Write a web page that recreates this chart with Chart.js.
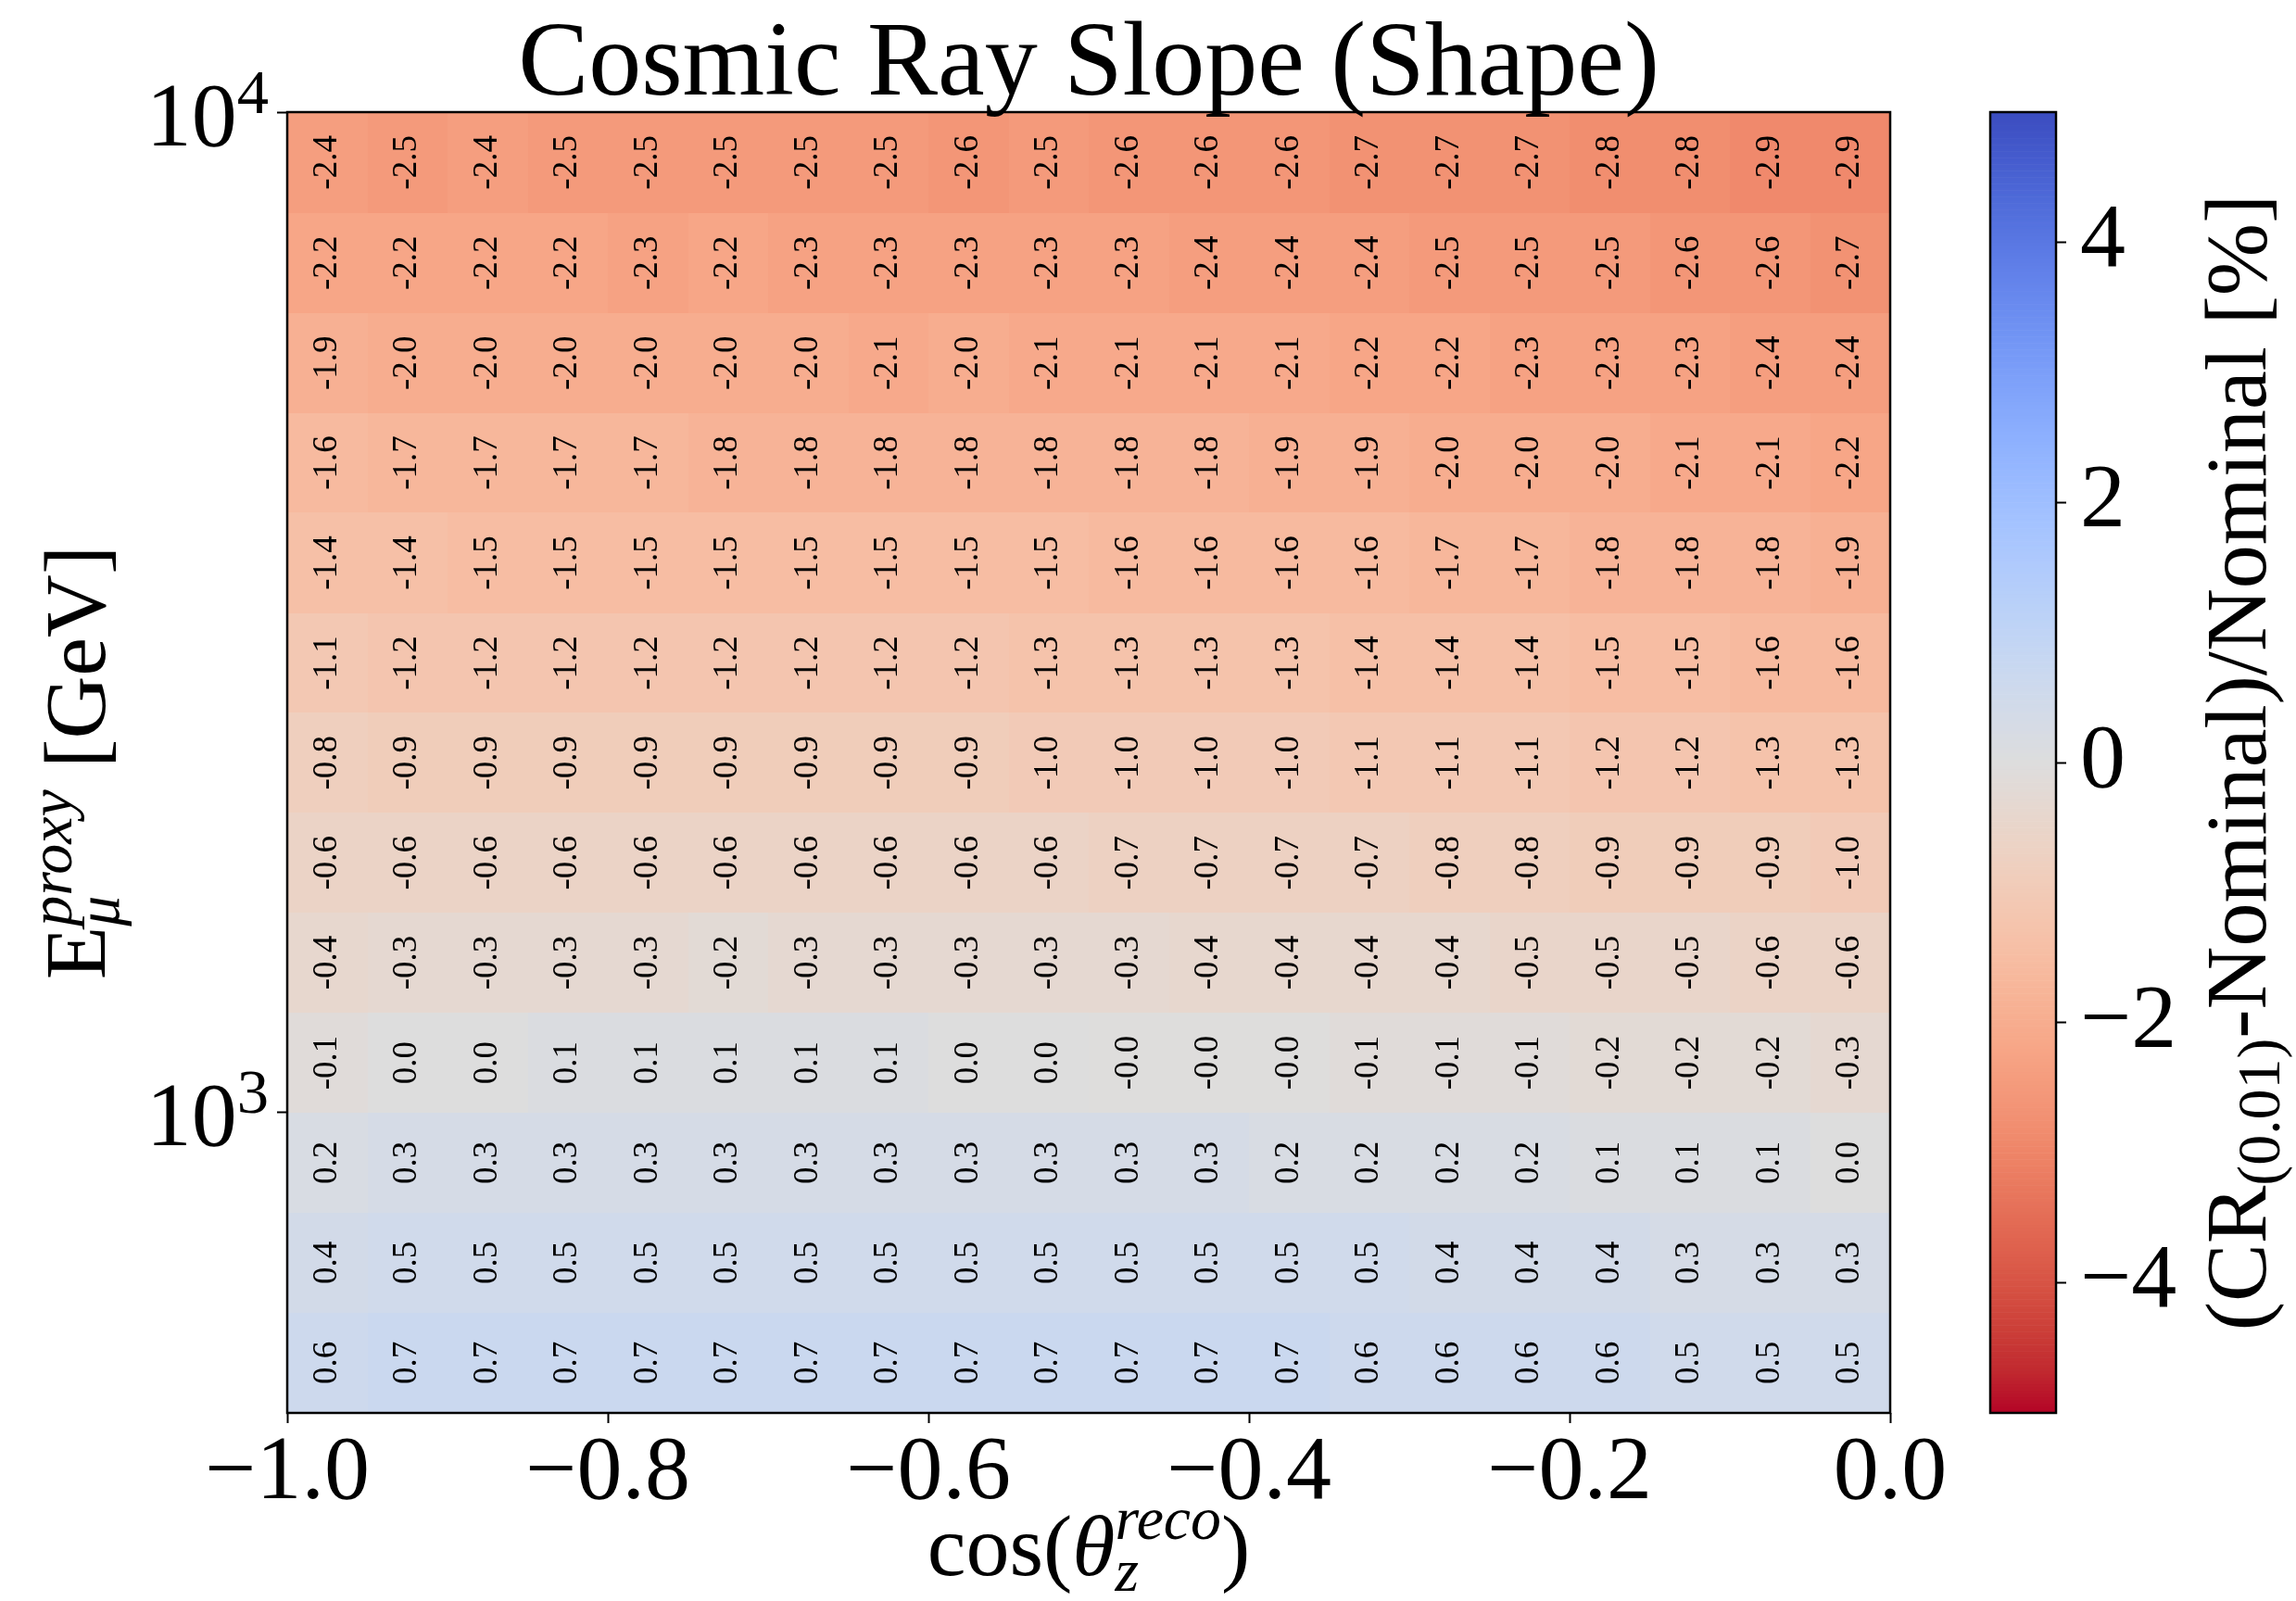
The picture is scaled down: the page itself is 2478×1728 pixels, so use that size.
<!DOCTYPE html>
<html>
<head>
<meta charset="utf-8">
<title>Cosmic Ray Slope (Shape)</title>
<script src="https://cdn.jsdelivr.net/npm/chart.js@4.4.1/dist/chart.umd.min.js"></script>
<style>
    html, body { margin: 0; padding: 0; background: #fff; }
    #wrap { position: relative; width: 2478px; height: 1728px; }
    #wrap canvas { position: absolute; left: 0; top: 0; }
</style>
</head>
<body>
<div id="wrap">
    <canvas id="heatmap" width="2478" height="1728"></canvas>
    <canvas id="colorbar" width="2478" height="1728"></canvas>
</div>
<script>
// cos(theta_z^reco) bin edges
const COS_EDGES = [-1.00, -0.95, -0.90, -0.85, -0.80, -0.75, -0.70, -0.65, -0.60, -0.55, -0.50,
                   -0.45, -0.40, -0.35, -0.30, -0.25, -0.20, -0.15, -0.10, -0.05, 0.00];
// E_mu^proxy bin edges [GeV]
const E_EDGES = [500, 630, 793, 998, 1257, 1582, 1992, 2507, 3156, 3974, 5002, 6298, 7928, 10000];

// (CR(0.01) - Nominal) / Nominal [%], one row per energy bin, lowest energy first
const SHIFT = [
    [0.6, 0.7, 0.7, 0.7, 0.7, 0.7, 0.7, 0.7, 0.7, 0.7, 0.7, 0.7, 0.7, 0.6, 0.6, 0.6, 0.6, 0.5, 0.5, 0.5],
    [0.4, 0.5, 0.5, 0.5, 0.5, 0.5, 0.5, 0.5, 0.5, 0.5, 0.5, 0.5, 0.5, 0.5, 0.4, 0.4, 0.4, 0.3, 0.3, 0.3],
    [0.2, 0.3, 0.3, 0.3, 0.3, 0.3, 0.3, 0.3, 0.3, 0.3, 0.3, 0.3, 0.2, 0.2, 0.2, 0.2, 0.1, 0.1, 0.1, 0.0],
    [-0.1, 0.0, 0.0, 0.1, 0.1, 0.1, 0.1, 0.1, 0.0, 0.0, -0.02, -0.02, -0.02, -0.1, -0.1, -0.1, -0.2, -0.2, -0.2, -0.3],
    [-0.4, -0.3, -0.3, -0.3, -0.3, -0.2, -0.3, -0.3, -0.3, -0.3, -0.3, -0.4, -0.4, -0.4, -0.4, -0.5, -0.5, -0.5, -0.6, -0.6],
    [-0.6, -0.6, -0.6, -0.6, -0.6, -0.6, -0.6, -0.6, -0.6, -0.6, -0.7, -0.7, -0.7, -0.7, -0.8, -0.8, -0.9, -0.9, -0.9, -1.0],
    [-0.8, -0.9, -0.9, -0.9, -0.9, -0.9, -0.9, -0.9, -0.9, -1.0, -1.0, -1.0, -1.0, -1.1, -1.1, -1.1, -1.2, -1.2, -1.3, -1.3],
    [-1.1, -1.2, -1.2, -1.2, -1.2, -1.2, -1.2, -1.2, -1.2, -1.3, -1.3, -1.3, -1.3, -1.4, -1.4, -1.4, -1.5, -1.5, -1.6, -1.6],
    [-1.4, -1.4, -1.5, -1.5, -1.5, -1.5, -1.5, -1.5, -1.5, -1.5, -1.6, -1.6, -1.6, -1.6, -1.7, -1.7, -1.8, -1.8, -1.8, -1.9],
    [-1.6, -1.7, -1.7, -1.7, -1.7, -1.8, -1.8, -1.8, -1.8, -1.8, -1.8, -1.8, -1.9, -1.9, -2.0, -2.0, -2.0, -2.1, -2.1, -2.2],
    [-1.9, -2.0, -2.0, -2.0, -2.0, -2.0, -2.0, -2.1, -2.0, -2.1, -2.1, -2.1, -2.1, -2.2, -2.2, -2.3, -2.3, -2.3, -2.4, -2.4],
    [-2.2, -2.2, -2.2, -2.2, -2.3, -2.2, -2.3, -2.3, -2.3, -2.3, -2.3, -2.4, -2.4, -2.4, -2.5, -2.5, -2.5, -2.6, -2.6, -2.7],
    [-2.4, -2.5, -2.4, -2.5, -2.5, -2.5, -2.5, -2.5, -2.6, -2.5, -2.6, -2.6, -2.6, -2.7, -2.7, -2.7, -2.8, -2.8, -2.9, -2.9]
];

const X_TICKS = [-1.0, -0.8, -0.6, -0.4, -0.2, 0.0];
const Y_TICKS = [1000, 10000];
const CB_TICKS = [-4, -2, 0, 2, 4];
const CB_MIN = -5, CB_MAX = 5;

const FAMILY = '"Liberation Serif", "Times New Roman", serif';

// matplotlib coolwarm, sampled at 33 points (used reversed: blue = +, red = -)
const COOLWARM = [
    [59, 76, 192], [68, 90, 204], [77, 104, 215], [87, 117, 225], [98, 130, 234], [108, 142, 241],
    [119, 154, 247], [130, 165, 251], [141, 176, 254], [152, 185, 255], [163, 194, 255], [174, 201, 253],
    [184, 208, 249], [194, 213, 244], [204, 217, 238], [213, 219, 230], [221, 221, 221], [229, 216, 209],
    [236, 211, 197], [241, 204, 185], [245, 196, 173], [247, 187, 160], [247, 177, 148], [247, 166, 135],
    [244, 154, 123], [241, 141, 111], [236, 127, 99], [229, 112, 88], [222, 96, 77], [213, 80, 66],
    [203, 62, 56], [192, 40, 47], [180, 4, 38]
];

function cmap(v) {
    let t = (CB_MAX - v) / (CB_MAX - CB_MIN);
    t = Math.min(1, Math.max(0, t));
    const p = t * (COOLWARM.length - 1);
    const i = Math.min(Math.floor(p), COOLWARM.length - 2);
    const f = p - i;
    const a = COOLWARM[i], b = COOLWARM[i + 1];
    const c = a.map((ai, k) => Math.round(ai + (b[k] - ai) * f));
    return `rgb(${c[0]},${c[1]},${c[2]})`;
}

const fontOf = (size, italic) => (italic ? 'italic ' : '') + size + 'px ' + FAMILY;

// text with sub/superscripts; seg = {t, s: scale, it: italic, up: shift in em, keep: don't advance}
function drawRich(ctx, segs, size, x, y, align, rot) {
    ctx.save();
    ctx.translate(x, y);
    if (rot) ctx.rotate(rot);
    let cx = 0, hold = 0;
    const placed = [];
    segs.forEach(sg => {
        const fs = size * (sg.s || 1);
        ctx.font = fontOf(fs, sg.it);
        const w = ctx.measureText(sg.t).width;
        placed.push({ sg, fs, x: cx });
        if (sg.keep) hold = cx + w;
        else { cx = Math.max(cx + w, hold); hold = 0; }
    });
    const total = Math.max(cx, hold);
    const off = align === 'center' ? -total / 2 : (align === 'right' ? -total : 0);
    ctx.fillStyle = '#000';
    ctx.textAlign = 'left';
    ctx.textBaseline = 'alphabetic';
    placed.forEach(p => {
        ctx.font = fontOf(p.fs, p.sg.it);
        ctx.fillText(p.sg.t, off + p.x, -(p.sg.up || 0) * size);
    });
    ctx.restore();
}

const minus = v => (v < 0 ? '\u2212' : '') + Math.abs(v);

// cell centres, one point per bin
const cellPoints = [];
SHIFT.forEach((row, j) => row.forEach((v, i) => cellPoints.push({
    x: (COS_EDGES[i] + COS_EDGES[i + 1]) / 2,
    y: Math.sqrt(E_EDGES[j] * E_EDGES[j + 1]),
    v: v, i: i, j: j
})));

const heatPlugin = {
    id: 'heat',
    beforeDatasetsDraw(chart) {
        const { ctx, scales: { x, y } } = chart;
        ctx.save();
        chart.data.datasets[0].data.forEach(c => {
            const x0 = Math.round(x.getPixelForValue(COS_EDGES[c.i]));
            const x1 = Math.round(x.getPixelForValue(COS_EDGES[c.i + 1]));
            const y0 = Math.round(y.getPixelForValue(E_EDGES[c.j]));
            const y1 = Math.round(y.getPixelForValue(E_EDGES[c.j + 1]));
            ctx.fillStyle = cmap(c.v);
            ctx.fillRect(x0, y1, x1 - x0, y0 - y1);
        });
        ctx.restore();
    },
    afterDatasetsDraw(chart) {
        const { ctx, chartArea: a } = chart;
        const meta = chart.getDatasetMeta(0);
        const raw = chart.data.datasets[0].data;
        ctx.save();
        ctx.fillStyle = '#000';
        ctx.font = fontOf(37, false);
        ctx.textAlign = 'center';
        ctx.textBaseline = 'middle';
        meta.data.forEach((pt, k) => {
            ctx.save();
            ctx.translate(pt.x, pt.y);
            ctx.rotate(-Math.PI / 2);
            ctx.fillText(raw[k].v.toFixed(1), 0, 0);
            ctx.restore();
        });
        ctx.strokeStyle = '#000';
        ctx.lineWidth = 2.5;
        ctx.strokeRect(a.left, a.top, a.right - a.left, a.bottom - a.top);
        ctx.restore();
    },
    afterDraw(chart) {
        const { ctx, chartArea: a, scales: { y } } = chart;
        const cx = (a.left + a.right) / 2;
        const cy = (a.top + a.bottom) / 2;
        ctx.save();
        ctx.fillStyle = '#000';
        ctx.font = fontOf(114, false);
        ctx.textAlign = 'center';
        ctx.textBaseline = 'alphabetic';
        ctx.fillText('Cosmic Ray Slope (Shape)', cx, 102);
        ctx.restore();

        // log tick labels 10^n
        Y_TICKS.forEach(v => {
            const py = y.getPixelForValue(v);
            drawRich(ctx, [{ t: '10' }, { t: String(Math.round(Math.log10(v))), s: 0.7, up: 0.36 }],
                98, a.left - 20, py + 36, 'right');
        });

        drawRich(ctx, [
            { t: 'cos(' }, { t: '\u03b8', it: true },
            { t: 'reco', s: 0.7, it: true, up: 0.42, keep: true },
            { t: 'z', s: 0.7, it: true, up: -0.18 },
            { t: ')' }
        ], 94, cx, 1700, 'center');

        drawRich(ctx, [
            { t: 'E' },
            { t: 'proxy', s: 0.7, it: true, up: 0.38, keep: true },
            { t: '\u03bc', s: 0.7, it: true, up: -0.16 },
            { t: ' [GeV]' }
        ], 94, 113, cy, 'center', -Math.PI / 2);
    }
};

new Chart(document.getElementById('heatmap'), {
    type: 'scatter',
    data: {
        datasets: [{ data: cellPoints, pointRadius: 0, pointHoverRadius: 0 }]
    },
    options: {
        responsive: false,
        devicePixelRatio: 1,
        animation: false,
        events: [],
        layout: { padding: { left: 0, top: 121, right: 438, bottom: 0 } },
        plugins: { legend: { display: false }, tooltip: { enabled: false } },
        scales: {
            x: {
                type: 'linear', position: 'bottom', min: -1, max: 0,
                afterBuildTicks: s => { s.ticks = X_TICKS.map(v => ({ value: v })); },
                afterFit: s => { s.height = 203; },
                border: { display: false },
                grid: { drawOnChartArea: false, drawTicks: true, tickLength: 11, tickWidth: 2, tickColor: '#000' },
                ticks: {
                    color: '#000', padding: -4, maxRotation: 0, autoSkip: false,
                    font: { family: FAMILY, size: 98 },
                    callback: v => (v < -1e-9 ? '\u2212' : '') + Math.abs(v).toFixed(1)
                }
            },
            y: {
                type: 'logarithmic', position: 'left', min: 500, max: 10000,
                afterBuildTicks: s => { s.ticks = Y_TICKS.map(v => ({ value: v })); },
                afterFit: s => { s.width = 310; },
                border: { display: false },
                grid: { drawOnChartArea: false, drawTicks: true, tickLength: 11, tickWidth: 2, tickColor: '#000' },
                ticks: { display: false }
            }
        }
    },
    plugins: [heatPlugin]
});

const colorbarPlugin = {
    id: 'cbar',
    beforeDatasetsDraw(chart) {
        const { ctx, chartArea: a, scales: { y } } = chart;
        const n = 400;
        ctx.save();
        for (let k = 0; k < n; k++) {
            const v0 = CB_MIN + (CB_MAX - CB_MIN) * k / n;
            const v1 = CB_MIN + (CB_MAX - CB_MIN) * (k + 1) / n;
            const p0 = y.getPixelForValue(v0), p1 = y.getPixelForValue(v1);
            ctx.fillStyle = cmap((v0 + v1) / 2);
            ctx.fillRect(a.left, p1, a.right - a.left, p0 - p1 + 0.6);
        }
        ctx.strokeStyle = '#000';
        ctx.lineWidth = 2.5;
        ctx.strokeRect(a.left, a.top, a.right - a.left, a.bottom - a.top);
        ctx.restore();
    },
    afterDraw(chart) {
        const { ctx, chartArea: a } = chart;
        drawRich(ctx, [
            { t: '(CR' },
            { t: '(0.01)', s: 0.7, up: -0.16 },
            { t: '-Nominal)/Nominal [%]' }
        ], 94, 2445, (a.top + a.bottom) / 2, 'center', -Math.PI / 2);
    }
};

new Chart(document.getElementById('colorbar'), {
    type: 'scatter',
    data: { datasets: [{ data: [], pointRadius: 0 }] },
    options: {
        responsive: false,
        devicePixelRatio: 1,
        animation: false,
        events: [],
        layout: { padding: { left: 2148, top: 121, right: 0, bottom: 203 } },
        plugins: { legend: { display: false }, tooltip: { enabled: false } },
        scales: {
            x: { type: 'linear', display: false, min: 0, max: 1 },
            y: {
                type: 'linear', position: 'right', min: CB_MIN, max: CB_MAX,
                afterBuildTicks: s => { s.ticks = CB_TICKS.map(v => ({ value: v })); },
                afterFit: s => { s.width = 259; },
                border: { display: false },
                grid: { drawOnChartArea: false, drawTicks: true, tickLength: 11, tickWidth: 2, tickColor: '#000' },
                ticks: {
                    color: '#000', padding: 15,
                    font: { family: FAMILY, size: 98 },
                    callback: v => minus(v)
                }
            }
        }
    },
    plugins: [colorbarPlugin]
});
</script>
</body>
</html>
